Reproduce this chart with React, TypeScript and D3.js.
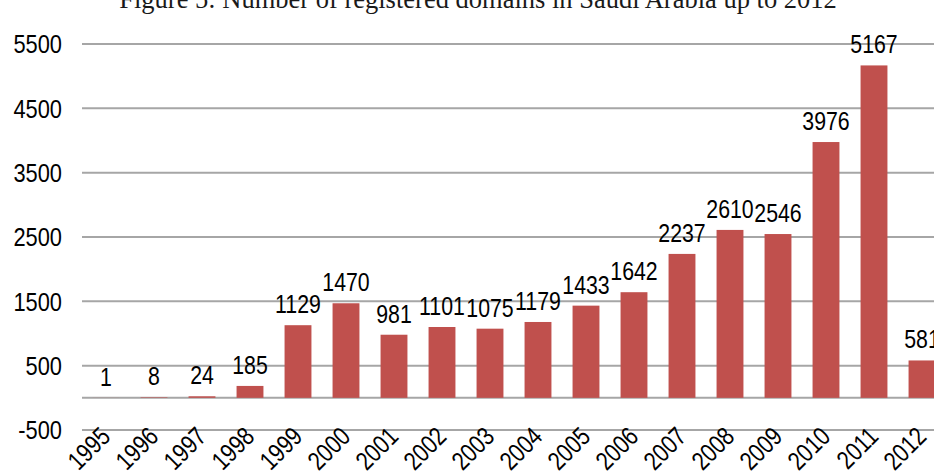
import React from 'react';
import * as d3 from 'd3';

const years = ['1995', '1996', '1997', '1998', '1999', '2000', '2001', '2002', '2003',
  '2004', '2005', '2006', '2007', '2008', '2009', '2010', '2011', '2012'];
const domains = [1, 8, 24, 185, 1129, 1470, 981, 1101, 1075, 1179, 1433, 1642,
  2237, 2610, 2546, 3976, 5167, 581];
const yTicks = [-500, 500, 1500, 2500, 3500, 4500, 5500];
const title = 'Figure 5: Number of registered domains in Saudi Arabia up to 2012';

const W = 934;
const H = 473;
const SANS = 'Liberation Sans, Arial, sans-serif';
const SQUEEZE = 0.82;

const App = () => {
  // band runs past the right edge, the source image was cropped there
  const x = d3.scaleBand<string>()
    .domain(years)
    .range([82, 946])
    .paddingInner(0.44)
    .paddingOuter(0.22);

  const y = d3.scaleLinear()
    .domain([-500, 5500])
    .range([430, 44]);

  const bw = x.bandwidth();

  return (
    <div style={{ position: 'fixed', left: 0, top: 0 }}>
      <svg width={W} height={H} style={{ display: 'block', background: '#fff' }}>
        <text x={478} y={8} textAnchor="middle"
          style={{ fontFamily: 'Liberation Serif, Times New Roman, serif', fontSize: 26.5, fill: '#1a1a1a' }}>
          {title}
        </text>

        {/* 그리드 */}
        {[...yTicks, 0].map(t => (
          <line key={'g' + t} x1={82} x2={W} y1={y(t)} y2={y(t)}
            stroke="#a6a6a6" strokeWidth={2} />
        ))}

        {/* Y축 라벨 */}
        {yTicks.map(t => (
          <text key={'y' + t}
            transform={`translate(62,${y(t)}) scale(0.84,1)`}
            textAnchor="end" dy="0.36em"
            style={{ fontFamily: SANS, fontSize: 26, fill: '#000' }}>
            {t}
          </text>
        ))}

        {/* 막대 */}
        {domains.map((v, i) => (
          <rect key={'b' + i}
            x={x(years[i])} y={y(v)} width={bw} height={y(0) - y(v)}
            fill="#c0504d" />
        ))}

        {/* 값 라벨 */}
        {domains.map((v, i) => (
          <text key={'v' + i}
            transform={`translate(${x(years[i])! + bw / 2},${y(v) - 12}) scale(${SQUEEZE},1)`}
            textAnchor="middle"
            style={{ fontFamily: SANS, fontSize: 26, fill: '#000' }}>
            {v}
          </text>
        ))}

        {/* X축 라벨 */}
        {years.map(yr => (
          <text key={'x' + yr}
            transform={`translate(${x(yr)! + bw / 2 + 6},438) rotate(-45) scale(${SQUEEZE},1)`}
            textAnchor="end"
            style={{ fontFamily: SANS, fontSize: 26, fill: '#000' }}>
            {yr}
          </text>
        ))}
      </svg>
    </div>
  );
};

export default App;
